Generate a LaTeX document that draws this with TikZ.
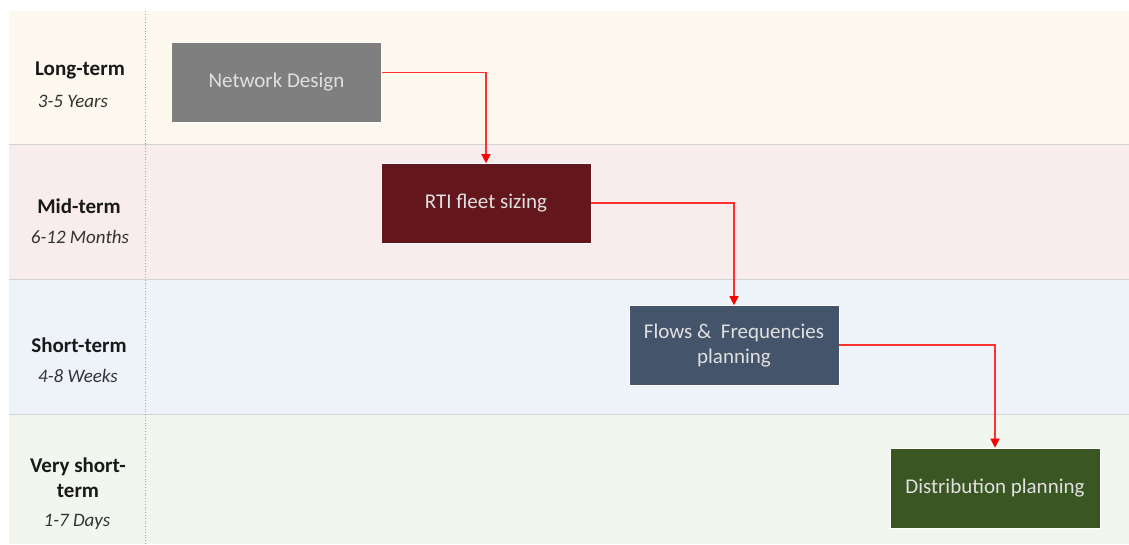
\documentclass[tikz,border=0pt]{standalone}
\usepackage{fontspec}
\setmainfont{Carlito}
\usetikzlibrary{arrows.meta}
\definecolor{bandA}{HTML}{FDF9EE}
\definecolor{bandB}{HTML}{F9ECEC}
\definecolor{bandC}{HTML}{EEF3FA}
\definecolor{bandD}{HTML}{F1F6EE}
\definecolor{sepc}{HTML}{D2D2D2}
\definecolor{boxA}{HTML}{7F7F7F}
\definecolor{boxB}{HTML}{63171C}
\definecolor{boxC}{HTML}{44546A}
\definecolor{boxD}{HTML}{3A5622}
\definecolor{arr}{HTML}{FF3030}
\tikzset{
  stage/.style={minimum width=210pt, minimum height=80pt, inner sep=0pt, draw=white, line width=0.6pt, text=white!88!black, font=\fontsize{21}{25}\selectfont, align=center},
  termlbl/.style={font=\bfseries\fontsize{21}{25}\selectfont, text=black!90, align=center},
  spanlbl/.style={font=\itshape\fontsize{19}{22}\selectfont, text=black!80},
  flow/.style={draw=arr, line width=1.2pt, -{Triangle[width=9pt,length=9pt,fill=red,color=red]}}
}
\begin{document}
\begin{tikzpicture}[x=1pt,y=-1pt]
\useasboundingbox (0,0) rectangle (1129,544);
\fill[white] (0,0) rectangle (1129,544);
% bands
\fill[bandA] (9,11) rectangle (1129,144);
\fill[bandB] (9,144) rectangle (1129,279);
\fill[bandC] (9,279) rectangle (1129,414);
\fill[bandD] (9,414) rectangle (1129,544);
\draw[sepc, line width=1pt] (9,144) -- (1129,144);
\draw[sepc, line width=1pt] (9,279) -- (1129,279);
\draw[sepc, line width=1pt] (9,414) -- (1129,414);
\draw[black!35, line width=0.8pt, dotted] (145,11) -- (145,544);
% labels
\node[termlbl] (lt) at (80,70) {Long-term};
\node[spanlbl] (lty) at (73,101) {3-5 Years};
\node[termlbl] (mt) at (79,206) {Mid-term};
\node[spanlbl] (mty) at (80,237) {6-12 Months};
\node[termlbl] (st) at (79,345) {Short-term};
\node[spanlbl] (sty) at (78,376) {4-8 Weeks};
\node[termlbl] (vt) at (78,478) {Very short-\\term};
\node[spanlbl] (vty) at (77,522) {1-7 Days};
% boxes
\node[stage, fill=boxA] (nd) at (276.5,82) {Network Design};
\node[stage, fill=boxB] (rti) at (486,203.5) {RTI fleet sizing};
\node[stage, fill=boxC] (ff) at (734,345.5) {Flows \&\ \ Frequencies\\planning};
\node[stage, fill=boxD] (dp) at (995,488) {Distribution planning};
% connectors
\draw[flow] ([yshift=9.5pt]nd.east) -| (rti.north);
\draw[flow] ([yshift=0.5pt]rti.east) -| (ff.north);
\draw[flow] ([yshift=0.5pt]ff.east) -| (dp.north);
\end{tikzpicture}
\end{document}
